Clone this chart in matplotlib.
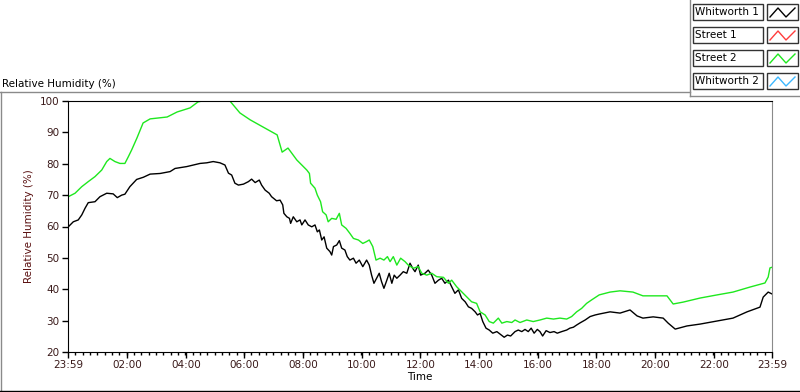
import numpy as np
import matplotlib.pyplot as plt
from matplotlib.lines import Line2D
from matplotlib.patches import Rectangle

# hours after 23:59, relative humidity (%)
whit1_t = [0.01, 0.18, 0.35, 0.47, 0.58, 0.69, 0.92, 1.09, 1.32, 1.54, 1.68, 1.83, 1.94,
           2.11, 2.34, 2.57, 2.80, 3.14, 3.48, 3.65, 4.05, 4.27, 4.50, 4.73, 4.95, 5.18,
           5.35, 5.47, 5.58, 5.69, 5.81, 5.98, 6.15, 6.26, 6.38, 6.52, 6.60, 6.72, 6.86,
           6.94, 7.11, 7.23, 7.32, 7.36, 7.46, 7.55, 7.59, 7.68, 7.80, 7.91, 7.97, 8.08,
           8.19, 8.31, 8.42, 8.50, 8.57, 8.65, 8.73, 8.82, 8.93, 8.99, 9.05, 9.16, 9.25,
           9.33, 9.44, 9.52, 9.61, 9.73, 9.82, 9.93, 10.05, 10.18, 10.27, 10.35, 10.43,
           10.52, 10.61, 10.69, 10.77, 10.87, 10.95, 11.04, 11.12, 11.21, 11.32, 11.43,
           11.55, 11.66, 11.75, 11.83, 11.94, 12.02, 12.17, 12.28, 12.40, 12.51, 12.63,
           12.74, 12.85, 12.97, 13.08, 13.19, 13.31, 13.42, 13.54, 13.65, 13.76, 13.88,
           13.96, 14.05, 14.14, 14.25, 14.36, 14.48, 14.62, 14.73, 14.87, 14.98, 15.09,
           15.24, 15.35, 15.47, 15.58, 15.69, 15.79, 15.89, 16.00, 16.09, 16.18, 16.30,
           16.43, 16.57, 16.68, 16.83, 17.00, 17.11, 17.23, 17.34, 17.46, 17.63, 17.80,
           17.97, 18.11, 18.48, 18.82, 19.16, 19.40, 19.60, 19.95, 20.29, 20.46, 20.70,
           21.10, 21.55, 22.13, 22.67, 23.15, 23.59, 23.70, 23.87, 24.0]
whit1_rh = [59.9, 61.5, 62.1, 63.7, 65.8, 67.6, 67.9, 69.5, 70.6, 70.4, 69.2, 70.0, 70.3,
            72.7, 75.0, 75.7, 76.7, 76.9, 77.5, 78.5, 79.1, 79.6, 80.1, 80.3, 80.7, 80.3,
            79.6, 77.0, 76.4, 73.8, 73.2, 73.5, 74.3, 75.1, 74.0, 74.8, 73.2, 71.6, 70.6,
            69.5, 68.2, 68.4, 66.9, 64.2, 63.1, 62.6, 61.0, 63.1, 61.5, 62.1, 60.5, 62.1,
            60.5, 59.9, 60.5, 58.3, 58.9, 55.7, 56.7, 53.1, 52.0, 50.9, 53.6, 54.1, 55.5,
            53.1, 52.5, 50.4, 49.3, 49.9, 48.3, 49.3, 47.2, 49.3, 47.7, 44.5, 41.9,
            43.5, 45.1, 42.4, 40.3, 42.9, 45.1, 41.9, 44.5, 43.5, 44.5, 45.6,
            45.1, 48.3, 46.7, 45.6, 47.7, 44.5, 45.1, 46.1, 44.5, 41.9, 42.9,
            43.5, 41.9, 42.9, 40.8, 38.7, 39.8, 37.1, 36.0, 34.4, 33.9, 32.8,
            31.8, 32.3, 29.7, 27.6, 27.0, 26.0, 26.5, 25.7, 24.7, 25.4, 25.1,
            26.5, 27.0, 26.5, 27.2, 26.5, 27.6, 26.0, 27.2, 26.5, 25.1, 26.8,
            26.2, 26.5, 26.0, 26.5, 27.0, 27.6, 27.9, 28.6, 29.3, 30.2, 31.3,
            31.8, 32.1, 32.8, 32.4, 33.4, 31.5, 30.8, 31.2, 30.8, 29.2, 27.3,
            28.3, 28.9, 29.9, 30.8, 32.8, 34.3, 37.5, 39.1, 38.5]

street2_t = [0.01, 0.24, 0.47, 0.69, 0.92, 1.15, 1.32, 1.43, 1.60, 1.77, 1.94, 2.06, 2.17,
             2.35, 2.56, 2.80, 3.38, 3.72, 4.16, 4.43, 4.57, 5.52, 5.86, 6.21, 6.65, 7.13,
             7.30, 7.50, 7.80, 7.97, 8.14, 8.23, 8.27, 8.42, 8.50, 8.61, 8.68, 8.80, 8.87,
             8.99, 9.14, 9.25, 9.33, 9.48, 9.61, 9.73, 9.90, 10.05, 10.18, 10.27, 10.39,
             10.50, 10.64, 10.77, 10.89, 10.98, 11.09, 11.21, 11.34, 11.49, 11.60, 11.77,
             11.94, 12.06, 12.23, 12.40, 12.57, 12.80, 12.97, 13.08, 13.25, 13.42, 13.59,
             13.76, 13.93, 14.05, 14.22, 14.36, 14.50, 14.67, 14.79, 14.96, 15.13, 15.24,
             15.41, 15.64, 15.86, 16.09, 16.32, 16.55, 16.77, 17.00, 17.17, 17.34, 17.51,
             17.68, 17.85, 18.11, 18.48, 18.82, 19.26, 19.60, 20.42, 20.63, 20.97, 21.55,
             22.13, 22.67, 23.25, 23.76, 23.87, 23.93, 24.0]
street2_rh = [69.5, 70.6, 72.7, 74.3, 75.9, 78.0, 80.7, 81.7, 80.7, 80.1, 80.1, 82.3, 84.4,
              88.2, 93.0, 94.3, 94.9, 96.5, 97.8, 99.7, 100, 100, 96.2, 94.0, 91.7, 89.2,
              83.7, 85.0, 81.2, 79.6, 78.0, 76.9, 73.8, 72.2, 70.0, 67.9, 64.7, 63.7, 61.5,
              62.6, 62.3, 64.2, 60.5, 59.4, 57.8, 56.2, 55.7, 54.6, 55.2, 55.7, 53.6,
              49.3, 49.9, 49.3, 50.4, 48.8, 50.4, 47.7, 49.9, 48.8, 47.7, 46.7,
              47.2, 45.1, 44.5, 45.1, 44.0, 43.8, 41.9, 42.9, 40.8, 39.2, 37.6,
              36.0, 35.5, 32.8, 31.8, 29.7, 29.2, 30.8, 29.2, 29.7, 29.4, 30.2,
              29.4, 30.2, 29.7, 30.2, 30.8, 30.5, 30.8, 30.5, 31.3, 32.8, 33.9,
              35.5, 36.6, 38.2, 39.1, 39.5, 39.1, 37.9, 37.9, 35.3, 35.9, 37.2,
              38.2, 39.1, 40.7, 42.0, 43.9, 46.8, 47.0]

legend_names = ['Whitworth 1', 'Street 1', 'Street 2', 'Whitworth 2']
legend_colors = ['black', '#ff3c3c', '#1ee81e', '#3cb8ff']
tick_labels = ['23:59', '02:00', '04:00', '06:00', '08:00', '10:00', '12:00',
               '14:00', '16:00', '18:00', '20:00', '22:00', '23:59']

W, H = 800, 392
fig = plt.figure(figsize=(W / 100, H / 100), dpi=100)
plt.rcParams['font.family'] = ['DejaVu Sans']
fs = 7.5
tick_col = '#3a1a1a'

ax = fig.add_axes([68 / W, 1 - 352 / H, (772 - 68) / W, (352 - 101) / H])
ax.plot(whit1_t, whit1_rh, color='black', lw=1)
ax.plot(street2_t, street2_rh, color='#1ee81e', lw=1)

ax.set_xlim(0, 24)
ax.set_ylim(20, 100)
major = [0] + [2 * i + 1 / 60 for i in range(1, 12)] + [24]
ax.set_xticks(major)
ax.set_xticklabels(tick_labels)
ax.set_xticks(np.arange(0, 24.01, 0.25), minor=True)
ax.set_yticks(range(20, 101, 10))
ax.tick_params(axis='both', which='major', direction='out', length=4, width=1,
               labelsize=fs, labelcolor=tick_col, pad=2)
ax.tick_params(axis='x', which='minor', direction='out', length=2, width=1)
ax.spines['right'].set_color('#8a8a8a')
ax.spines['top'].set_color('black')
ax.set_xlabel('Time', fontsize=fs, color='black', labelpad=1)
ax.set_ylabel('Relative Humidity (%)', fontsize=fs, color='#5a1010', labelpad=4)

# panel frames
def fline(x0, y0, x1, y1, c='#8a8a8a', lw=1):
    fig.add_artist(Line2D([x0 / W, x1 / W], [1 - y0 / H, 1 - y1 / H], color=c, lw=lw))

fline(0, 92, 690, 92)
fline(0.5, 92, 0.5, 392)
fline(0, 391, 800, 391, c='black')
fline(690, 0, 690, 96)
fline(690, 96, 800, 96)
fig.text(2 / W, 1 - 84 / H, 'Relative Humidity (%)', fontsize=fs, va='center', ha='left')

# legend boxes
for i, (name, col) in enumerate(zip(legend_names, legend_colors)):
    top = 4 + i * 23
    fig.add_artist(Rectangle((693 / W, 1 - (top + 16) / H), 70 / W, 16 / H,
                             fc='white', ec='#333333', lw=1, transform=fig.transFigure))
    fig.text(695 / W, 1 - (top + 8) / H, name, fontsize=fs, va='center', ha='left')
    fig.add_artist(Rectangle((767 / W, 1 - (top + 16) / H), 31 / W, 16 / H,
                             fc='white', ec='#333333', lw=1, transform=fig.transFigure))
    zx = [770, 778, 786, 795]
    zy = [top + 13, top + 4, top + 13, top + 4]
    fig.add_artist(Line2D([x / W for x in zx], [1 - y / H for y in zy], color=col, lw=1))

fig.savefig('out.png', dpi=100)
